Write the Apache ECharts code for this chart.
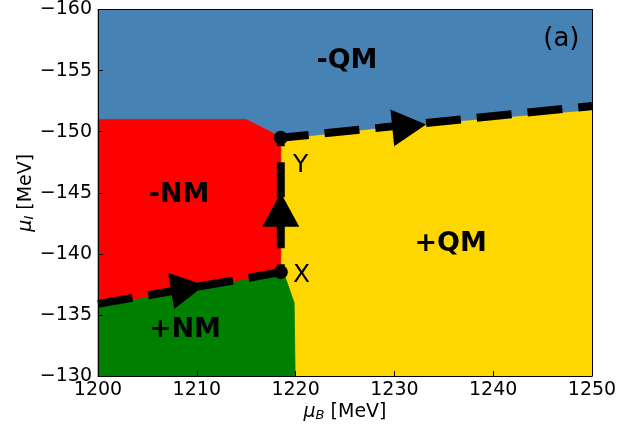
<!DOCTYPE html>
<html><head><meta charset="utf-8">
<script src="https://cdn.jsdelivr.net/npm/echarts@6/dist/echarts.min.js"></script>
<style>html,body{margin:0;padding:0;background:#fff}#c{width:637px;height:430px}</style>
</head><body><div id="c"></div>
<script>
// Phase regions (mu_B [MeV], mu_I [MeV])
const regionNames = ['-QM', '-NM', '+NM', '+QM'];
const blueQM = [[1200,-160],[1250,-160],[1250,-151.8],[1230,-150.45],[1218.5,-149.4],[1217.9,-149.8],[1215,-151],[1200,-151]];
const redNM = [[1200,-151],[1215,-151],[1217.9,-149.8],[1218.5,-149.4],[1218.5,-138.4],[1200,-135.7]];
const greenNM = [[1200,-135.7],[1218.5,-138.4],[1218.9,-138.2],[1219.85,-136.0],[1219.95,-130],[1200,-130]];
const yellowQM = [[1218.5,-149.4],[1230,-150.45],[1250,-151.8],[1250,-130],[1219.95,-130],[1219.85,-136.0],[1218.9,-138.2],[1218.5,-138.4]];
// label anchor points
const regionLabelPos = [[1225.2,-155.8],[1208.2,-144.8],[1208.8,-133.8],[1235.7,-140.8]];
// path
const pathBottom = [[1200,-135.9],[1218.5,-138.5]];
const pathVertical = [[1218.5,-138.5],[1218.5,-149.5]];
const pathTop = [[1218.5,-149.5],[1250,-152.1]];
const pointNames = ['X','Y'];
const points = [[1218.5,-138.5],[1218.5,-149.5]];
const pointLabelPos = [[1220.6,-138.2],[1220.5,-147.2]];
const arrows = [[1209.1,-137.2],[1218.5,-143.6],[1231.5,-150.45]];
const arrowRot = [-80.4, 0, -84.2];
const panelTag = ['(a)'];
const panelTagPos = [[1246.9,-157.6]];

const FONT = 'DejaVu Sans';
function polySeries(poly, color){
  return {
    type:'custom', z:1, silent:true,
    data:[[poly[0][0], poly[0][1]]],
    renderItem:function(params, api){
      const pts = poly.map(p => api.coord(p));
      return {type:'polygon', shape:{points:pts}, style:{fill:color, stroke:color, lineWidth:0.8}};
    }
  };
}
const dash = {color:'#000', width:8, type:[35,16], cap:'butt'};
const chart = echarts.init(document.getElementById('c'), null, {renderer:'canvas'});
const axisCommon = {
  type:'value', splitLine:{show:false}, z:10,
  axisLine:{show:true, onZero:false, lineStyle:{color:'#000', width:1}},
};
const nameRich = {
  mu:{fontSize:19, fontStyle:'italic', fontFamily:FONT, lineHeight:23, verticalAlign:'bottom'},
  sub:{fontSize:13, fontStyle:'italic', fontFamily:FONT, lineHeight:10, verticalAlign:'bottom'},
  t:{fontSize:19, fontFamily:FONT, lineHeight:23, verticalAlign:'bottom'}
};
const textSeries = (pos, names, fs, fw) => ({
  type:'scatter', z:6, silent:true, symbolSize:0, itemStyle:{opacity:1},
  data:pos.map((p,i) => ({value:p, name:names[i]})),
  label:{show:true, position:'inside', formatter:'{b}', fontSize:fs, fontWeight:fw, color:'#000', fontFamily:FONT, opacity:1}
});
chart.setOption({
  animation:false,
  grid:{left:98, right:45, top:8, bottom:54},
  xAxis:[
    Object.assign({}, axisCommon, {min:1200, max:1250, interval:10, position:'bottom',
      axisTick:{show:true, inside:true, length:5, lineStyle:{color:'#000'}},
      axisLabel:{fontSize:19, color:'#000', margin:5, fontFamily:FONT, formatter:v => String(v)},
      name:'{mu|μ}{sub|B}{t| [MeV]}', nameLocation:'middle', nameGap:23, nameMoveOverlap:false,
      nameTextStyle:{fontFamily:FONT, color:'#000', rich:nameRich}}),
    Object.assign({}, axisCommon, {min:1200, max:1250, interval:10, position:'top',
      axisTick:{show:false}, axisLabel:{show:false}})
  ],
  yAxis:[
    Object.assign({}, axisCommon, {min:-160, max:-130, interval:5, inverse:true, position:'left',
      axisTick:{show:true, inside:true, length:5, lineStyle:{color:'#000'}},
      axisLabel:{fontSize:19, color:'#000', margin:6, fontFamily:FONT,
        formatter:v => String(v).replace('-', '\u2212')},
      name:'{mu|μ}{sub|I}{t| [MeV]}', nameLocation:'middle', nameGap:62, nameRotate:90, nameMoveOverlap:false,
      nameTextStyle:{fontFamily:FONT, color:'#000', rich:nameRich}}),
    Object.assign({}, axisCommon, {min:-160, max:-130, interval:5, inverse:true, position:'right',
      axisTick:{show:false}, axisLabel:{show:false}})
  ],
  series:[
    polySeries(yellowQM, '#FFD700'),
    polySeries(blueQM, '#4682B4'),
    polySeries(redNM, '#FF0000'),
    polySeries(greenNM, '#008000'),
    {type:'line', z:3, data:pathBottom, symbol:'none', lineStyle:Object.assign({}, dash, {dashOffset:0}), silent:true},
    {type:'line', z:3, data:pathVertical, symbol:'none', lineStyle:Object.assign({}, dash, {dashOffset:27}), silent:true},
    {type:'line', z:3, data:pathTop, symbol:'none', lineStyle:Object.assign({}, dash, {dashOffset:7}), silent:true},
    {type:'scatter', z:4, silent:true,
      data:arrows.map((p,i) => ({value:p, symbolRotate:arrowRot[i]})),
      symbol:'triangle', symbolSize:[37,34], itemStyle:{color:'#000', opacity:1}},
    {type:'scatter', z:5, silent:true, data:points, symbol:'circle', symbolSize:14, itemStyle:{color:'#000', opacity:1}},
    textSeries(pointLabelPos, pointNames, 25, 'normal'),
    textSeries(regionLabelPos, regionNames, 27, 'bold'),
    textSeries(panelTagPos, panelTag, 26, 'normal')
  ]
});
</script></body></html>
